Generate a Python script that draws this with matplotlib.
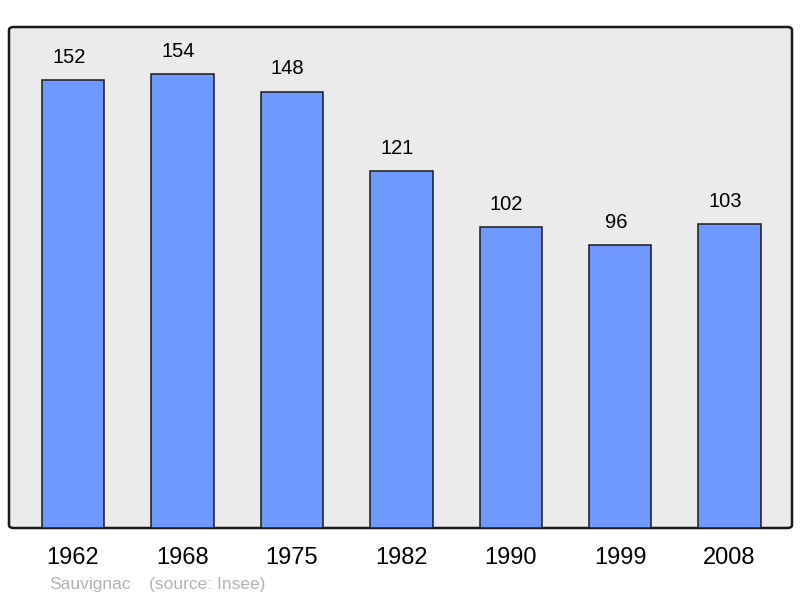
import matplotlib
matplotlib.use('Agg')
import matplotlib.pyplot as plt
from matplotlib.patches import FancyBboxPatch

plt.rcParams['font.family'] = ['Liberation Sans', 'DejaVu Sans']

# Data
years = ["1962", "1968", "1975", "1982", "1990", "1999", "2008"]
population = [152, 154, 148, 121, 102, 96, 103]
commune = "Sauvignac"
source = "(source: Insee)"

fig = plt.figure(figsize=(8, 5.98), dpi=100)
ax = fig.add_axes([9 / 800, 70 / 598, 783 / 800, 501 / 598])
ax.set_facecolor('none')

# rounded grey frame behind the bars
frame = FancyBboxPatch((0, 0), 1, 1,
                       boxstyle="round,pad=0,rounding_size=0.006",
                       transform=ax.transAxes, facecolor='#ebebeb',
                       edgecolor='#1a1a1a', linewidth=1.8, zorder=0,
                       clip_on=False)
ax.add_patch(frame)

x = range(len(years))
bars = ax.bar(x, population, width=0.57, color='#7099ff',
              edgecolor='#1a1a1a', linewidth=1.1, zorder=2)

# value labels sit a touch left of the bar centre, like the original
for xi, v in zip(x, population):
    ax.annotate(str(v), (xi, v), xytext=(-3, 16.5), textcoords='offset points',
                ha='center', va='center', fontsize=14.5, color='black')

ax.set_xlim(-0.585, 6.57)
ax.set_ylim(0, 170)
ax.set_xticks(list(x))
ax.set_xticklabels(years, fontsize=17)
ax.tick_params(axis='x', length=0, pad=14)
ax.set_yticks([])
for s in ax.spines.values():
    s.set_visible(False)

fig.text(49 / 800, 1 - 584 / 598, commune, fontsize=12.5, color='#b3b3b3', va='center')
fig.text(149 / 800, 1 - 584 / 598, source, fontsize=12.5, color='#b3b3b3', va='center')

plt.savefig("out.png", dpi=100)
